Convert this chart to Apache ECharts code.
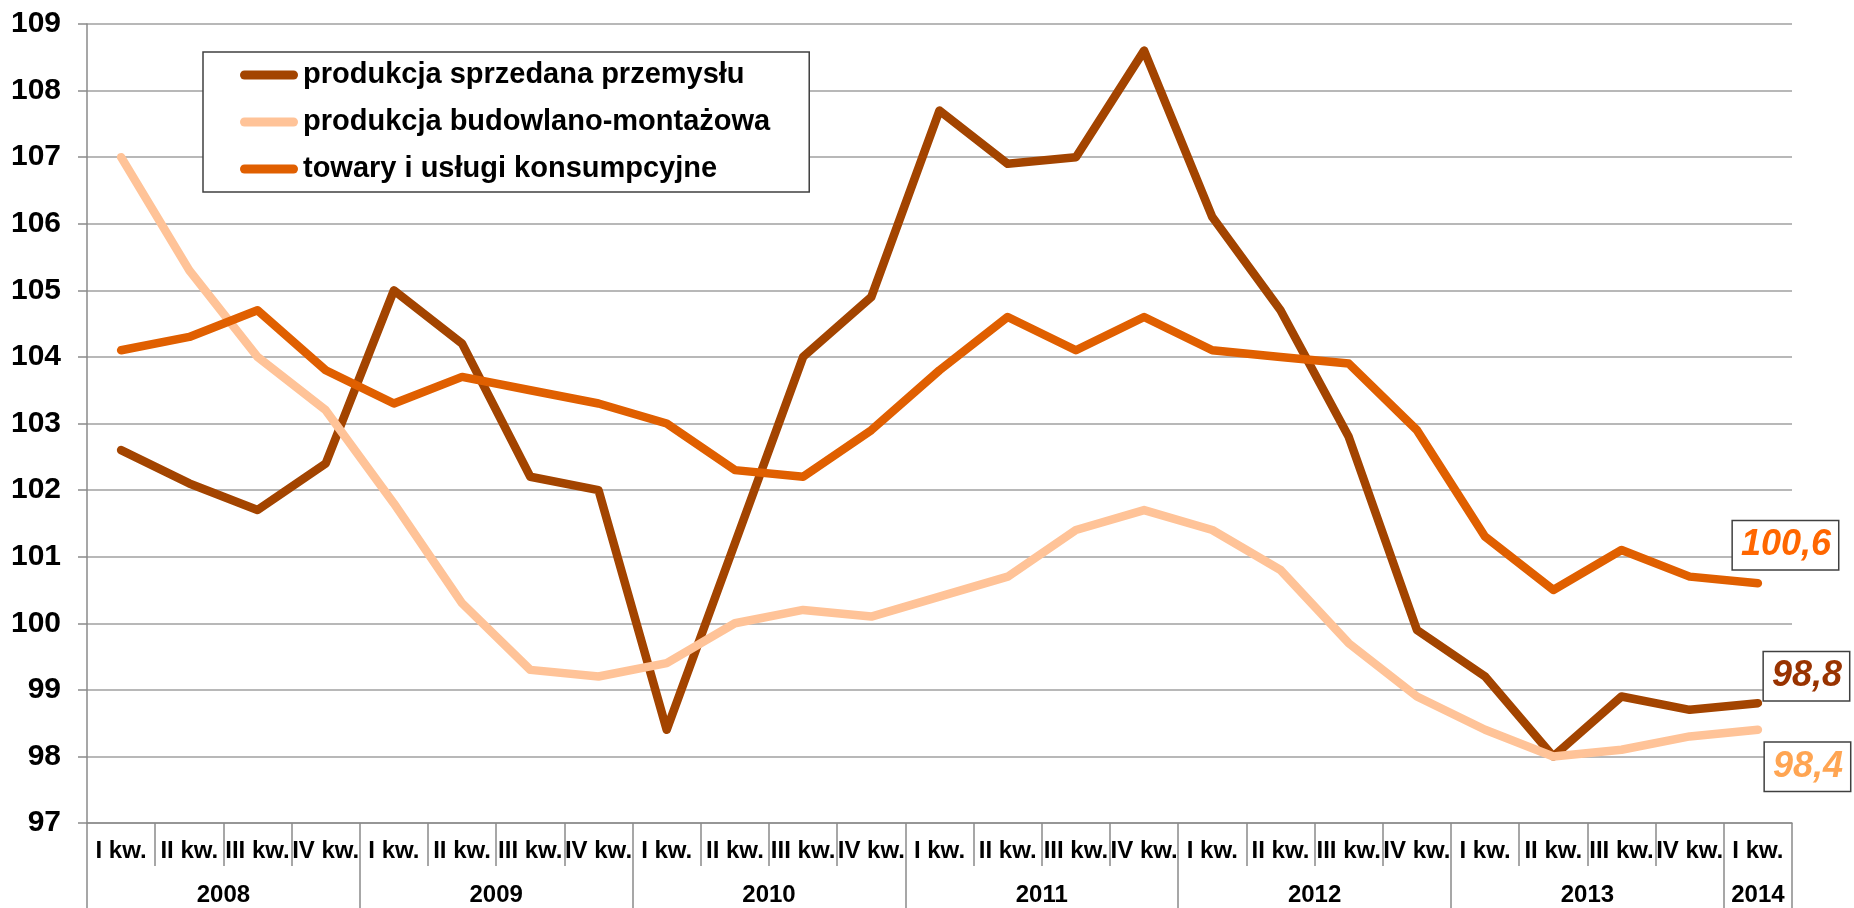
<!DOCTYPE html>
<html>
<head>
<meta charset="utf-8">
<script src="https://cdn.jsdelivr.net/npm/echarts@6/dist/echarts.min.js"></script>
<style>
html,body{margin:0;padding:0;background:#fff;}
#c{width:1854px;height:908px;}
</style>
</head>
<body>
<div id="c"></div>
<script>
var quarters = ['I kw.','II kw.','III kw.','IV kw.','I kw.','II kw.','III kw.','IV kw.','I kw.','II kw.','III kw.','IV kw.','I kw.','II kw.','III kw.','IV kw.','I kw.','II kw.','III kw.','IV kw.','I kw.','II kw.','III kw.','IV kw.','I kw.'];
var years = ['2008','2009','2010','2011','2012','2013','2014'];
var quartersPerYear = [4,4,4,4,4,4,1];
var yTicks = {min: 97, max: 109, interval: 1};

var przemysl = [102.6,102.1,101.7,102.4,105.0,104.2,102.2,102.0,98.4,101.2,104.0,104.9,107.7,106.9,107.0,108.6,106.1,104.7,102.8,99.9,99.2,98.0,98.9,98.7,98.8];
var budowlana = [107.0,105.3,104.0,103.2,101.8,100.3,99.3,99.2,99.4,100.0,100.2,100.1,100.4,100.7,101.4,101.7,101.4,100.8,99.7,98.9,98.4,98.0,98.1,98.3,98.4];
var konsumpcja = [104.1,104.3,104.7,103.8,103.3,103.7,103.5,103.3,103.0,102.3,102.2,102.9,103.8,104.6,104.1,104.6,104.1,104.0,103.9,102.9,101.3,100.5,101.1,100.7,100.6];

var names = ['produkcja sprzedana przemysłu','produkcja budowlano-montażowa','towary i usługi konsumpcyjne'];
var colors = ['#A34400','#FFC398','#E05F00'];
var labelColors = ['#993300','#FFA552','#FF6600'];

// second axis: half-quarter slots for year labels and year separators
var slots = [];
var boundaries = {};
var start = 0;
for (var i = 0; i <= quarters.length * 2; i++) slots.push('');
for (var y = 0; y < years.length; y++) {
  boundaries[start * 2] = true;
  slots[start * 2 + quartersPerYear[y]] = years[y];
  start += quartersPerYear[y];
}
boundaries[start * 2] = true;

var FONT = '"Liberation Sans", Arial, sans-serif';

function endLbl(idx, offset) {
  return {
    show: true,
    distance: 0,
    offset: offset,
    formatter: function (p) { return Number(p.value).toFixed(1).replace('.', ','); },
    fontFamily: FONT,
    fontSize: 36,
    fontWeight: 'bold',
    fontStyle: 'italic',
    color: labelColors[idx],
    backgroundColor: '#fff',
    borderColor: '#404040',
    borderWidth: 1.5,
    padding: [5, 7, 3, 8],
    lineHeight: 40
  };
}

function mkSeries(idx, data, offset) {
  return {
    name: names[idx],
    type: 'line',
    xAxisIndex: 0,
    data: data,
    symbol: 'none',
    smooth: false,
    lineStyle: {color: colors[idx], width: 8.5, cap: 'round', join: 'round'},
    itemStyle: {color: colors[idx]},
    endLabel: endLbl(idx, offset),
    z: 3 + idx
  };
}

var chart = echarts.init(document.getElementById('c'), null, {renderer: 'canvas'});
chart.setOption({
  animation: false,
  backgroundColor: '#fff',
  grid: {left: 87, right: 62, top: 24, bottom: 85, containLabel: false},
  legend: {
    orient: 'vertical',
    left: 203,
    top: 52,
    padding: [8, 39, 8, 37],
    itemWidth: 58,
    itemHeight: 9,
    itemGap: 17,
    itemStyle: {borderWidth: 0},
    icon: 'path://M4.5,0 L53.5,0 A4.5,4.5 0 0 1 53.5,9 L4.5,9 A4.5,4.5 0 0 1 4.5,0 Z',
    itemTextGap: 3,
    backgroundColor: '#fff',
    borderColor: '#404040',
    borderWidth: 1.5,
    textStyle: {fontFamily: FONT, fontSize: 29, fontWeight: 'bold', color: '#000', lineHeight: 30},
    data: names
  },
  xAxis: [
    {
      type: 'category',
      data: quarters,
      boundaryGap: true,
      axisLine: {show: true, lineStyle: {color: '#8a8a8a', width: 1.5}},
      axisTick: {show: true, interval: 0, length: 43, lineStyle: {color: '#8a8a8a', width: 1.5}},
      axisLabel: {interval: 0, margin: 16, fontFamily: FONT, fontSize: 24, fontWeight: 'bold', color: '#000'},
      splitLine: {show: false}
    },
    {
      type: 'category',
      data: slots,
      boundaryGap: false,
      position: 'bottom',
      axisLine: {show: false},
      axisTick: {
        show: true,
        length: 85,
        interval: function (index) { return !!boundaries[index]; },
        lineStyle: {color: '#8a8a8a', width: 1.5}
      },
      axisLabel: {interval: 0, margin: 60, fontFamily: FONT, fontSize: 24, fontWeight: 'bold', color: '#000'},
      splitLine: {show: false}
    }
  ],
  yAxis: {
    type: 'value',
    min: yTicks.min,
    max: yTicks.max,
    interval: yTicks.interval,
    axisLine: {show: true, lineStyle: {color: '#8a8a8a', width: 1.5}},
    axisTick: {show: true, length: 9, lineStyle: {color: '#8a8a8a', width: 1.5}},
    axisLabel: {margin: 26, fontFamily: FONT, fontSize: 30, fontWeight: 'bold', color: '#000'},
    splitLine: {show: true, lineStyle: {color: '#a0a0a0', width: 1.5}}
  },
  series: [
    mkSeries(0, przemysl, [6, -27]),
    mkSeries(1, budowlana, [7, 37]),
    mkSeries(2, konsumpcja, [-25, -38])
  ]
});
</script>
</body>
</html>
